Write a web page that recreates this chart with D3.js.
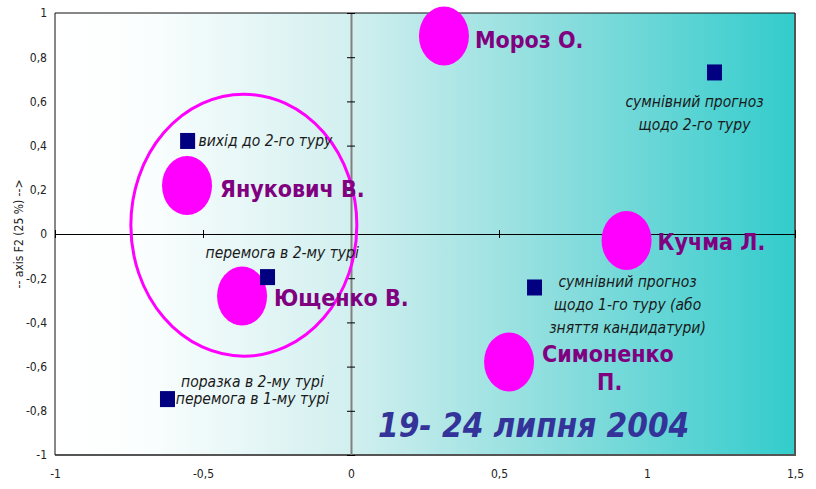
<!DOCTYPE html>
<html>
<head>
<meta charset="utf-8">
<style>
body { margin: 0; background: #fff; }
svg { display: block; }
.tick text { font: 12px "DejaVu Sans Condensed", "DejaVu Sans", sans-serif; fill: #222; }
.cand { font-family: "DejaVu Sans Condensed", "DejaVu Sans", sans-serif; font-weight: bold; font-size: 23px; fill: #800080; }
.note { font-family: "DejaVu Sans Condensed", "DejaVu Sans", sans-serif; font-style: italic; font-size: 15.5px; fill: #1a1a1a; }
.title { font-family: "DejaVu Sans Condensed", "DejaVu Sans", sans-serif; font-style: italic; font-weight: bold; font-size: 33px; fill: #333399; }
.ytitle { font: 12px "DejaVu Sans Condensed", "DejaVu Sans", sans-serif; fill: #222; }
</style>
<script src="https://cdnjs.cloudflare.com/ajax/libs/d3/7.8.5/d3.min.js"></script>
</head>
<body>
<svg width="816" height="489"></svg>
<script>
// candidates (magenta blobs)
var candNames = ["Мороз О.", "Янукович В.", "Ющенко В.", "Кучма Л.", "Симоненко П."];
var candX = [0.314, -0.554, -0.368, 0.931, 0.534];
var candY = [0.896, 0.219, -0.281, -0.029, -0.579];

// prognosis categories (navy squares)
var progNames = [
  ["вихід до 2-го туру"],
  ["перемога в 2-му турі"],
  ["сумнівний прогноз", "щодо 2-го туру"],
  ["сумнівний прогноз", "щодо 1-го туру (або", "зняття кандидатури)"],
  ["поразка в 2-му турі", "перемога в 1-му турі"]
];
var progX = [-0.552, -0.282, 1.228, 0.620, -0.620];
var progY = [0.421, -0.195, 0.731, -0.242, -0.747];

var xTicks = [-1, -0.5, 0, 0.5, 1, 1.5];
var yTicks = [-1, -0.8, -0.6, -0.4, -0.2, 0, 0.2, 0.4, 0.6, 0.8, 1];

var svg = d3.select("svg");
var pL = 55, pR = 795, pT = 13, pB = 455;

var x = d3.scaleLinear().domain([-1, 1.5]).range([pL, pR]);
var y = d3.scaleLinear().domain([-1, 1]).range([pB, pT]);
var fmt = function(d) { return String(d).replace(".", ","); };

var defs = svg.append("defs");
var grad = defs.append("linearGradient").attr("id", "bg").attr("x1", "0").attr("x2", "1").attr("y1", "0").attr("y2", "0");
grad.append("stop").attr("offset", "0").attr("stop-color", "#ffffff");
grad.append("stop").attr("offset", "0.12").attr("stop-color", "#fbfefe");
grad.append("stop").attr("offset", "0.4").attr("stop-color", "#d2efef");
grad.append("stop").attr("offset", "0.7").attr("stop-color", "#86dcdc");
grad.append("stop").attr("offset", "1").attr("stop-color", "#33cccc");

// plot area
svg.append("rect").attr("x", pL).attr("y", pT).attr("width", pR - pL).attr("height", pB - pT)
  .attr("fill", "url(#bg)");
// shadowed right/bottom border
svg.append("path").attr("d", "M" + pR + "," + pT + "V" + pB + "H" + pL)
  .attr("fill", "none").attr("stroke", "#555").attr("stroke-width", 2);
svg.append("path").attr("d", "M" + pL + "," + pB + "V" + pT + "H" + pR)
  .attr("fill", "none").attr("stroke", "#111").attr("stroke-width", 1);

// outer tick labels
svg.append("g").attr("transform", "translate(" + pL + ",0)")
  .call(d3.axisLeft(y).tickValues(yTicks).tickFormat(fmt).tickSize(0).tickPadding(8))
  .call(function(g) { g.select(".domain").remove(); });
svg.append("g").attr("transform", "translate(0," + pB + ")")
  .call(d3.axisBottom(x).tickValues(xTicks).tickFormat(fmt).tickSize(0).tickPadding(14))
  .call(function(g) { g.select(".domain").remove(); });

// zero axes with centred ticks
var gx0 = svg.append("g").attr("transform", "translate(0," + y(0) + ")")
  .call(d3.axisBottom(x).tickValues(xTicks).tickFormat("").tickSizeOuter(0).tickSizeInner(4));
gx0.select(".domain").attr("stroke", "#000").attr("d", "M" + pL + ",0.5H" + pR);
gx0.selectAll(".tick line").attr("y1", -4).attr("y2", 4).attr("stroke", "#000");

var gy0 = svg.append("g").attr("transform", "translate(" + x(0) + ",0)")
  .call(d3.axisLeft(y).tickValues(yTicks).tickFormat("").tickSizeOuter(0).tickSizeInner(4));
gy0.select(".domain").attr("stroke", "#808080").attr("stroke-width", 2).attr("d", "M0.5," + pT + "V" + pB);
gy0.selectAll(".tick line").attr("x1", -4).attr("x2", 4).attr("stroke", "#000");

// big outline ellipse around Yanukovych / Yushchenko
svg.append("ellipse").attr("cx", x(-0.362)).attr("cy", y(0.04)).attr("rx", 113).attr("ry", 131)
  .attr("fill", "none").attr("stroke", "#ff00ff").attr("stroke-width", 3);

// candidate blobs
var cand = candNames.map(function(n, i) { return { name: n, x: candX[i], y: candY[i] }; });
svg.append("g").selectAll("ellipse").data(cand).join("ellipse")
  .attr("cx", function(d) { return x(d.x); })
  .attr("cy", function(d) { return y(d.y); })
  .attr("rx", 25).attr("ry", 29.5)
  .attr("fill", "#ff00ff");

// candidate labels: offsets from blob centre, per line
var candLab = [
  [[31, 12]],
  [[33, 11]],
  [[32, 10]],
  [[31, 10]],
  [[33, 0], [88, 28]]
];
var candLines = [["Мороз О."], ["Янукович В."], ["Ющенко В."], ["Кучма Л."], ["Симоненко", "П."]];
cand.forEach(function(d, i) {
  candLines[i].forEach(function(t, j) {
    svg.append("text").attr("class", "cand")
      .attr("x", x(d.x) + candLab[i][j][0]).attr("y", y(d.y) + candLab[i][j][1]).text(t);
  });
});

// prognosis squares
var prog = progNames.map(function(n, i) { return { lines: n, x: progX[i], y: progY[i] }; });
svg.append("g").selectAll("rect").data(prog).join("rect")
  .attr("x", function(d) { return x(d.x) - 7.5; })
  .attr("y", function(d) { return y(d.y) - 8; })
  .attr("width", 15).attr("height", 16)
  .attr("fill", "#000080");

// prognosis labels: anchor, dx, dy of first baseline, line step
var progLab = [
  ["start", 11, 5, 0],
  ["start", -62, -19, 0],
  ["middle", -20, 35, 23],
  ["middle", 93, 0, 23],
  ["middle", 85, -12, 17]
];
prog.forEach(function(d, i) {
  var L = progLab[i];
  var t = svg.append("text").attr("class", "note").attr("text-anchor", L[0]);
  d.lines.forEach(function(s, j) {
    t.append("tspan").attr("x", x(d.x) + L[1]).attr("y", y(d.y) + L[2] + j * L[3]).text(s);
  });
});

// date caption
svg.append("text").attr("class", "title").attr("x", 378).attr("y", 437).text("19- 24 липня 2004");

// y axis title
svg.append("text").attr("class", "ytitle").attr("text-anchor", "middle")
  .attr("transform", "translate(23," + y(0) + ") rotate(-90)")
  .text("-- axis F2 (25 %) -->");
</script>
</body>
</html>
